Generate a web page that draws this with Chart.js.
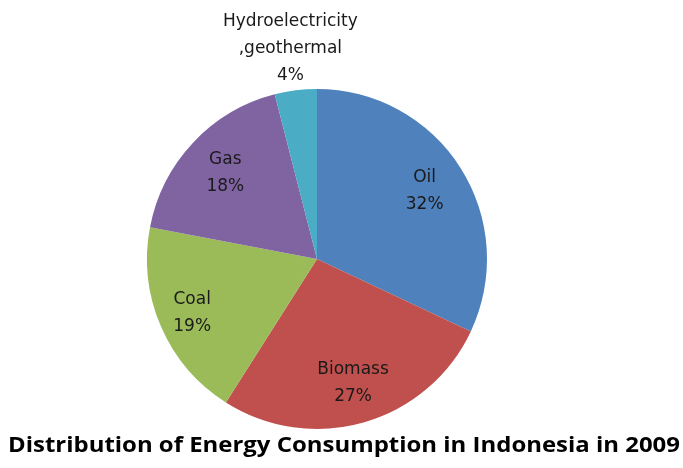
<!DOCTYPE html>
<html>
<head>
<meta charset="utf-8">
<script src="https://cdn.jsdelivr.net/npm/chart.js@4.4.0/dist/chart.umd.min.js"></script>
<style>
  html, body { margin: 0; padding: 0; background: #fff; }
  #wrap { width: 683px; height: 468px; }
</style>
</head>
<body>
<div id="wrap"><canvas id="myChart" width="683" height="468"></canvas></div>
<script>
const labels = ['Oil', 'Biomass', 'Coal', 'Gas', 'Hydroelectricity\n,geothermal'];
const shares = [32, 27, 19, 18, 4];
const colors = ['#4F81BD', '#C0504D', '#9BBB59', '#8064A2', '#4BACC6'];
const titleText = 'Distribution of Energy Consumption in Indonesia in 2009';

// label radius as fraction of outer radius, the small slice goes outside
const labelRadius = [0.75, 0.76, 0.80, 0.74, 1.25];

const sliceLabels = {
  id: 'sliceLabels',
  afterDatasetsDraw(chart) {
    const ctx = chart.ctx;
    const meta = chart.getDatasetMeta(0);
    ctx.save();
    ctx.fillStyle = '#1a1a1a';
    ctx.font = '17px "DejaVu Sans"';
    ctx.textAlign = 'center';
    ctx.textBaseline = 'middle';
    meta.data.forEach((arc, i) => {
      const mid = (arc.startAngle + arc.endAngle) / 2;
      const r = arc.outerRadius * labelRadius[i];
      const x = arc.x + Math.cos(mid) * r;
      const y = arc.y + Math.sin(mid) * r;
      const lines = labels[i].split('\n').concat([shares[i] + '%']);
      const lh = 27;
      lines.forEach((t, j) => {
        ctx.fillText(t, x, y + (j - (lines.length - 1) / 2) * lh);
      });
    });
    // title, fitted to the width it has in the original
    ctx.font = 'bold 22px "Open Sans"';
    ctx.fillStyle = '#000';
    ctx.textBaseline = 'alphabetic';
    const w = ctx.measureText(titleText).width;
    ctx.translate(344, 452);
    ctx.scale(672 / w, 1);
    ctx.fillText(titleText, 0, 0);
    ctx.restore();
  }
};

const config = {
  type: 'pie',
  data: {
    labels: labels,
    datasets: [{
      data: shares,
      backgroundColor: colors,
      borderWidth: 0
    }]
  },
  options: {
    responsive: false,
    animation: false,
    rotation: 0,
    layout: { padding: { left: 147, right: 196, top: 89, bottom: 39 } },
    plugins: {
      legend: { display: false },
      tooltip: { enabled: false }
    }
  },
  plugins: [sliceLabels]
};

new Chart(document.getElementById('myChart').getContext('2d'), config);
</script>
</body>
</html>
